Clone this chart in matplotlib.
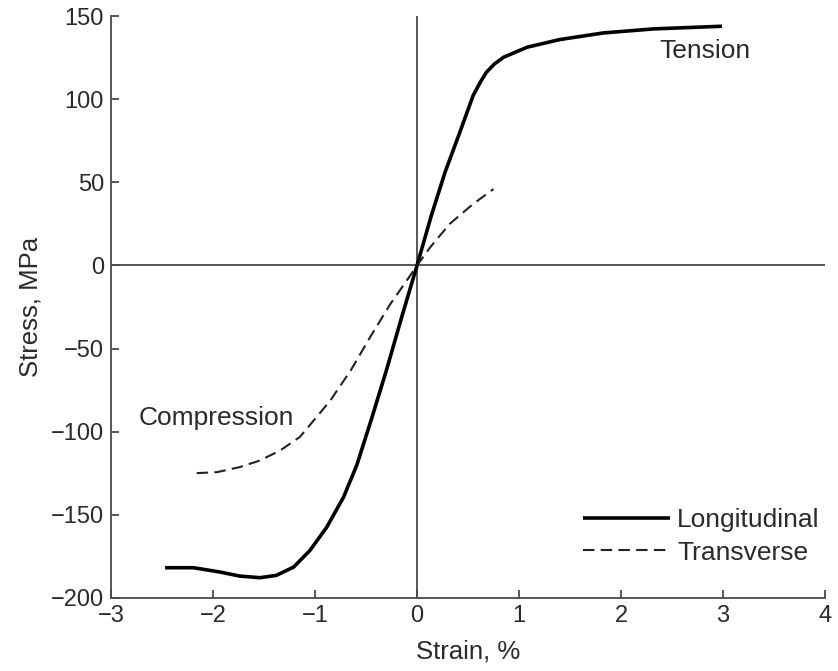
import numpy as np
import matplotlib
matplotlib.use('Agg')
import matplotlib.pyplot as plt

plt.rcParams['font.family'] = ['Liberation Sans', 'DejaVu Sans']

# values (strain %, stress MPa)
long_strain = [-2.47, -2.19, -1.93, -1.74, -1.54, -1.38, -1.21, -1.05, -0.885,
               -0.72, -0.59, -0.45, -0.30, -0.15, 0.0, 0.14, 0.275, 0.42,
               0.55, 0.62, 0.68, 0.76, 0.85, 1.08, 1.40, 1.83, 2.32, 2.99]
long_stress = [-181.8, -181.8, -184.4, -186.8, -187.8, -186.4, -181.4, -171.4,
               -157.4, -139.3, -120.0, -93.0, -63.0, -31.0, 0.0, 30.0, 56.1,
               80.2, 102.2, 110.2, 116.2, 121.3, 125.3, 131.3, 135.9, 139.9,
               142.3, 143.9]

trans_strain = [-2.16, -1.96, -1.74, -1.54, -1.34, -1.15, -1.04, -0.85, -0.65,
                -0.46, -0.26, -0.10, 0.0, 0.13, 0.32, 0.55, 0.75]
trans_stress = [-124.9, -124.3, -121.3, -117.3, -111.2, -103.2, -95.2, -81.2,
                -63.1, -43.1, -23.0, -9.0, 0.0, 11.0, 25.0, 37.0, 46.0]

x_ticks = [-3, -2, -1, 0, 1, 2, 3, 4]
y_ticks = [-200, -150, -100, -50, 0, 50, 100, 150]

axis_col = '#4a4a4a'
text_col = '#2a2a2a'

fig = plt.figure(figsize=(8.38, 6.71), dpi=100)
ax = fig.add_axes([0.1325, 0.1088, 0.852, 0.8672])

ax.plot(long_strain, long_stress, color='black', lw=2.6,
        solid_capstyle='butt', solid_joinstyle='round', label='Longitudinal')
ax.plot(trans_strain, trans_stress, color='#222222', lw=1.5,
        dashes=(5.5, 3), label='Transverse')

# zero lines
ax.axhline(0, color=axis_col, lw=1.3, zorder=0)
ax.axvline(0, color=axis_col, lw=1.3, zorder=0)

ax.set_xlim(-3, 4)
ax.set_ylim(-200, 150)
ax.set_xticks(x_ticks)
ax.set_yticks(y_ticks)

for side in ['top', 'right']:
    ax.spines[side].set_visible(False)
for side in ['left', 'bottom']:
    ax.spines[side].set_color(axis_col)
    ax.spines[side].set_linewidth(1.3)

ax.tick_params(direction='in', length=6, width=1.3, color=axis_col,
               labelsize=17, labelcolor=text_col, pad=5)

ax.set_xlabel('Strain, %', fontsize=18.5, color=text_col, labelpad=9)
ax.set_ylabel('Stress, MPa', fontsize=18.5, color=text_col, labelpad=6)

ax.text(2.38, 129, 'Tension', fontsize=19, color=text_col, va='center')
ax.text(-2.73, -92, 'Compression', fontsize=19, color=text_col, va='center')

ax.legend(loc='center left', bbox_to_anchor=(0.661, 0.106), frameon=False,
          fontsize=19, handlelength=3.3, handletextpad=0.27, labelspacing=0.32,
          borderpad=0, borderaxespad=0, labelcolor=text_col)

fig.savefig('out.png', dpi=100)
